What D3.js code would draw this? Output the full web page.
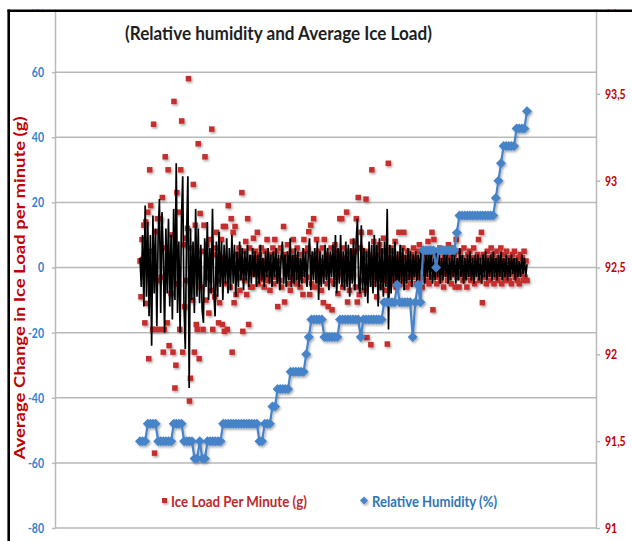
<!DOCTYPE html>
<html><head><meta charset="utf-8">
<script src="https://cdn.jsdelivr.net/npm/d3@7"></script>
<style>body{margin:0;background:#fff}svg{display:block}</style>
</head><body>
<svg id="c" width="632" height="541"></svg>
<script>
// ---------- DATA ----------
const leftTickValues = [-80,-60,-40,-20,0,20,40,60,80];
const leftTickLabels = ["-80","-60","-40","-20","0","20","40","60","80"];
const rightTickValues = [91,91.5,92,92.5,93,93.5,94];
const rightTickLabels = ["91","91,5","92","92,5","93","93,5","94"];

const chartTitle = "(Relative humidity and Average Ice Load)";
const yTitle = "Average Change in Ice Load per minute (g)";
const seriesNames = ["Ice Load Per Minute (g)", "Relative Humidity (%)"];

// Ice load per minute (g) – red squares, left axis
const iceLoad = [
 2,-9,8.6,2.5,13,-17,14,-11,17,-28,30,19,5,-19,44,-57,-19,11,15,-4,
 -19,15,-3,21.5,-26,-19,34,6,-17,30,-24,3,-8,10,-26,51,-37,-30,23,-5,
 17,-19,30,45,-26,7,-12,9,-4,12,58,-41,-34,6,-10,25.5,-26,13,-17.5,-19,
 38,-28,16.6,-6,5,-19,13,34,-10,7,-3,-14,8.6,-7,42.5,-19,4,-9,6,10.8,
 -4,-17,-10.8,3,8.6,-17.5,12.6,-19.6,12.6,-5,-19,19,2,-6,15,-26,10.8,-10.8,12.6,-8.3,
 4,-3,6,-7,2,23,-19.6,5,-4,8,-8.3,15,-17.5,6,-6,3,-6,9,-2,5,
 3,10.8,-5,4,-2,6,-3.7,2,-6,5,-3,8.6,-4,3,-7,4,-2,6,-5,8.6,
 -3,5,-12,2,-4,6,-6,3,12.6,-10.6,4,-2,7,-5,3,-7,5,-3,8.6,-4,
 3,-5,6,-3,2,-6,4,-2,-8.3,8.6,-4,5,-3,6,11,-8.3,13,-5,3,15,
 -6,4,8.6,-3,5,-4,2,-7,6,-10.8,8.6,-2,4,-5,-12,3,-4,6,-13,2,
 -5,7,-3,5,-8,4,15,-2,15,-6,6,-4,3,17,-10.6,5,-7,4,-3,8,
 -2,5,-6,15,-10.6,21.5,-8.3,6,10.8,-4,3,-7,5,21,-21.5,4,-3,10.8,-23.7,30,
 -5,8,-3,6,-9,4,-2,7,-6,5,-4,9,-3,5,-7,-23.5,32,3,-5,6,
 -4,5,-2,8,-6,3,-3,10.8,-5,4,-2,6,10.8,-4,3,-6,5,-3,2,-5,
 4,-3,6,-2,3,-5,5,-4,7,-3,2,-6,4,-2,5,-4,3,8,-5,4,
 -3,10.8,-13,8.6,-2,4,-5,3,-3,6,-4,2,5,-6,3,-2,4,-4,7,-3,
 3,-5,6,-2,4,-6,8.6,-3,2,-6,5,-2,3,-4,6,-3,2,-6,4,-2,
 5,-4,3,-3,6,-5,2,-2,4,8.6,-4,3,10.8,-10.8,4,-3,2,-5,5,-2,
 3,-4,6,-2,4,-5,2,-3,5,-4,3,-2,6,-5,2,-3,4,-4,5,-2,
 3,-4,2,-5,4,-2,5,-3,2,-4,3,-5,4,-2,3,-4,5,-3,2,-4
];

// Average change in ice load – black line, left axis
const avgChange = [
 3,-6,10,-12,19,-9,14,-15,10,-24,16,-8,12,-18,9,21,-14,17,4,-20,
 12,-8,15,-12,10,-16,18,-10,32,-14,8,-20,14,28,-12,-25,10,28,-37,12,
 -10,8,-14,18,-9,12,-11,7,-13,-17,9,-6,14,-10,6,-8,18,-7,-15,8,
 -9,11,-6,8,-10,7,-5,9,-8,6,-7,10,-5,7,-9,5,-6,8,-4,6,
 -7,5,-4,7,-6,4,-5,6,-3,5,-6,4,-5,7,-4,3,-6,5,-3,6,
 -5,4,-6,5,-3,6,-5,4,-7,3,8,-5,4,-6,5,-4,9,-6,4,-5,
 6,-4,5,-6,3,-5,6,-3,5,-6,4,9,-7,5,-4,6,-5,8,-10,5,
 -6,4,-5,7,-4,6,-7,5,-3,7,-6,10,-8,6,-5,10,-6,5,-7,8,
 -6,7,-9,6,-5,9,-7,8,15,-6,-8,13,-7,6,-9,5,-11,8,-6,7,
 -8,10,-6,7,-12,9,-7,6,-9,8,-6,18,-19,7,-8,6,-5,8,-7,5,
 -6,7,-5,6,-7,4,-5,6,-4,5,-6,4,-3,5,-5,4,-4,6,-3,4,
 -5,4,-3,5,-4,6,-5,3,-4,5,-3,4,-5,3,-4,5,-3,4,-5,3,
 -4,5,-3,4,-5,3,-4,6,-3,4,-5,3,-4,4,-3,5,-4,3,-5,4,
 -3,4,-4,3,-5,4,-3,5,-4,3,-3,4,-4,5,-3,3,-4,4,-3,5,
 -4,3,-3,4,-4,3,-3,4,-2,3,-4,3,-3,2,-3,4,-2,3,-3,1
];

// Relative humidity (%) – blue diamonds, right axis
const humidity = [
 91.5,91.5,91.5,91.6,91.6,91.6,91.6,91.5,91.5,91.5,91.5,91.5,91.5,91.6,91.6,91.6,91.6,91.5,91.5,91.5,
 91.5,91.4,91.4,91.5,91.4,91.4,91.5,91.5,91.5,91.5,91.5,91.5,91.6,91.6,91.6,91.6,91.6,91.6,91.6,91.6,
 91.6,91.6,91.6,91.6,91.6,91.6,91.5,91.5,91.6,91.6,91.6,91.7,91.7,91.8,91.8,91.8,91.8,91.8,91.9,91.9,
 91.9,91.9,91.9,91.9,92.0,92.1,92.2,92.2,92.2,92.2,92.2,92.1,92.1,92.1,92.1,92.1,92.1,92.2,92.2,92.2,
 92.2,92.2,92.2,92.2,92.2,92.1,92.2,92.2,92.2,92.2,92.2,92.2,92.2,92.2,92.3,92.3,92.3,92.3,92.3,92.4,
 92.3,92.3,92.3,92.3,92.3,92.1,92.3,92.4,92.3,92.6,92.6,92.6,92.6,92.6,92.5,92.6,92.6,92.6,92.6,92.6,
 92.6,92.6,92.7,92.8,92.8,92.8,92.8,92.8,92.8,92.8,92.8,92.8,92.8,92.8,92.8,92.8,92.8,92.9,93.0,93.1,
 93.2,93.2,93.2,93.2,93.2,93.3,93.3,93.3,93.3,93.4
];

// ---------- LAYOUT ----------
const P = {left:55, right:596, top:7, bottom:528};
const X0 = 140, X1 = 527;
const FONT = "Lato, 'Open Sans', 'DejaVu Sans', sans-serif";
const RED = "#c62f2d", BLUE = "#4683c8", GRID = "#b9b9b9";

const svg = d3.select("#c");
const defs = svg.append("defs");
const sh = defs.append("filter").attr("id","sh").attr("x","-50%").attr("y","-50%").attr("width","200%").attr("height","200%");
sh.append("feDropShadow").attr("dx",1.2).attr("dy",1.6).attr("stdDeviation",0.9).attr("flood-color","#000").attr("flood-opacity",0.35);

const yL = d3.scaleLinear().domain([-80,80]).range([P.bottom, P.top]);
const yR = d3.scaleLinear().domain([91,94]).range([P.bottom, P.top]);
const xIce = d3.scaleLinear().domain([0, iceLoad.length-1]).range([X0, X1]);
const xAvg = d3.scaleLinear().domain([0, avgChange.length-1]).range([X0, X1]);
const xHum = d3.scaleLinear().domain([0, humidity.length-1]).range([X0, X1]);

// gridlines
svg.append("g").selectAll("line").data(leftTickValues).join("line")
  .attr("x1", P.left).attr("x2", P.right)
  .attr("y1", d => yL(d)).attr("y2", d => yL(d))
  .attr("stroke", GRID).attr("stroke-width", 1.5);

// left axis
const SX = 0.75;
const gL = svg.append("g").attr("transform", `translate(${P.left},0)`)
  .call(d3.axisLeft(yL).tickValues(leftTickValues).tickFormat((d,i)=>leftTickLabels[i])
        .tickSizeInner(3).tickSizeOuter(0).tickPadding(8));
gL.select(".domain").attr("stroke", GRID).attr("stroke-width", 1.5);
gL.selectAll(".tick line").attr("stroke", GRID).attr("stroke-width", 1.5);
gL.selectAll(".tick text").attr("fill", "#2f80d0").attr("font-family", FONT)
  .attr("font-weight", "bold").attr("font-size", 14)
  .attr("transform", `scale(${SX},1)`).attr("x", -11/SX);

// right axis
const gR = svg.append("g").attr("transform", `translate(${P.right},0)`)
  .call(d3.axisRight(yR).tickValues(rightTickValues).tickFormat((d,i)=>rightTickLabels[i])
        .tickSizeInner(4).tickSizeOuter(0).tickPadding(5));
gR.select(".domain").attr("stroke", GRID).attr("stroke-width", 1.5);
gR.selectAll(".tick line").attr("stroke", GRID).attr("stroke-width", 1.5);
gR.selectAll(".tick text").attr("fill", "#c00000").attr("font-family", FONT)
  .attr("font-weight", "bold").attr("font-size", 14)
  .attr("transform", `scale(${SX},1)`).attr("x", 9/SX);

// red squares
svg.append("g").attr("filter","url(#sh)").selectAll("rect").data(iceLoad).join("rect")
  .attr("x", (d,i) => xIce(i) - 2.75).attr("y", d => yL(d) - 2.75)
  .attr("width", 5.5).attr("height", 5.5).attr("fill", RED);

// black line
svg.append("path").datum(avgChange)
  .attr("d", d3.line().x((d,i)=>xAvg(i)).y(d=>yL(d)))
  .attr("fill","none").attr("stroke","#000").attr("stroke-width",1.7).attr("stroke-linejoin","miter");

// blue humidity line + diamonds
const gH = svg.append("g").attr("filter","url(#sh)");
gH.append("path").datum(humidity)
  .attr("d", d3.line().x((d,i)=>xHum(i)).y(d=>yR(d)))
  .attr("fill","none").attr("stroke",BLUE).attr("stroke-width",2.2);
gH.selectAll("path.m").data(humidity).join("path").attr("class","m")
  .attr("transform", (d,i) => `translate(${xHum(i)},${yR(d)})`)
  .attr("d", "M0,-5L5,0L0,5L-5,0Z").attr("fill", BLUE);

// title
svg.append("text").attr("x", 125).attr("y", 40).text(chartTitle)
  .attr("font-family", FONT).attr("font-weight","bold").attr("font-size", 18)
  .attr("fill","#1e1e1e").attr("textLength", 307).attr("lengthAdjust","spacingAndGlyphs");

// y title
svg.append("text").attr("transform","translate(25,288) rotate(-90)")
  .attr("text-anchor","middle").text(yTitle)
  .attr("font-family", FONT).attr("font-weight","bold").attr("font-size", 14.5)
  .attr("fill","#c00000").attr("textLength", 343).attr("lengthAdjust","spacingAndGlyphs");

// legend
const lg = svg.append("g");
lg.append("rect").attr("x",162).attr("y",498).attr("width",5).attr("height",5).attr("fill",RED).attr("filter","url(#sh)");
lg.append("text").attr("x",171).attr("y",507).text(seriesNames[0])
  .attr("font-family",FONT).attr("font-weight","bold").attr("font-size",15).attr("fill","#c0282d")
  .attr("textLength",136).attr("lengthAdjust","spacingAndGlyphs");
lg.append("path").attr("transform","translate(364,500.5)").attr("d","M0,-4L4,0L0,4L-4,0Z").attr("fill",BLUE).attr("filter","url(#sh)");
lg.append("text").attr("x",372).attr("y",507).text(seriesNames[1])
  .attr("font-family",FONT).attr("font-weight","bold").attr("font-size",15).attr("fill","#2e75b6")
  .attr("textLength",125).attr("lengthAdjust","spacingAndGlyphs");

// outer frame (crop edge)
svg.append("rect").attr("x",0).attr("y",0).attr("width",632).attr("height",9.5).attr("fill","#fff");
svg.append("rect").attr("x",0).attr("y",0).attr("width",7.5).attr("height",541).attr("fill","#fff");
svg.append("line").attr("x1",7.5).attr("x2",632).attr("y1",10.8).attr("y2",10.8).attr("stroke","#000").attr("stroke-width",2.6);
svg.append("line").attr("x1",8.7).attr("x2",8.7).attr("y1",9.5).attr("y2",541).attr("stroke","#000").attr("stroke-width",2.6);
</script>
</body></html>
